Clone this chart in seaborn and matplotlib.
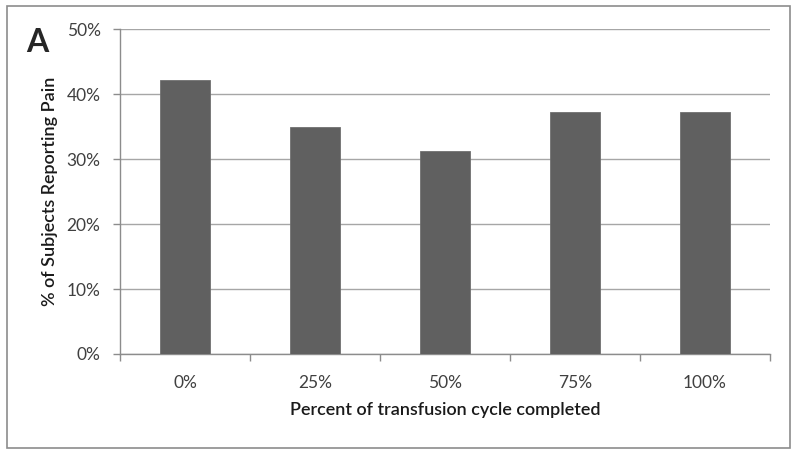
import matplotlib
matplotlib.use('Agg')
import matplotlib.pyplot as plt
import pandas as pd
import seaborn as sns
from matplotlib.patches import Rectangle
from matplotlib.ticker import FixedLocator, PercentFormatter

# data
cycle_labels = ['0%', '25%', '50%', '75%', '100%']
pain_pct = [42.1, 34.9, 31.3, 37.3, 37.3]
y_ticks = [0, 10, 20, 30, 40, 50]

sns.set_style('white')
plt.rcParams['font.family'] = ['Lato', 'DejaVu Sans']

tbl = pd.DataFrame({'cycle': cycle_labels, 'pct': pain_pct})

fig = plt.figure(figsize=(8, 4.55), dpi=100)
ax = fig.add_axes([0.15, 0.222, 0.8125, 0.714])

sns.barplot(data=tbl, x='cycle', y='pct', color='#606060', width=0.39,
            saturation=1, edgecolor='#707070', linewidth=0.6, ax=ax, zorder=3)

ax.set_ylim(0, 50)
ax.set_xlim(-0.5, len(cycle_labels) - 0.5)
ax.set_yticks(y_ticks)
ax.yaxis.set_major_formatter(PercentFormatter(decimals=0))
ax.yaxis.grid(True, color='#a6a6a6', linewidth=1, zorder=0)
ax.set_axisbelow(True)

for side in ['top', 'right']:
    ax.spines[side].set_visible(False)
for side in ['left', 'bottom']:
    ax.spines[side].set_color('#8c8c8c')
    ax.spines[side].set_linewidth(1)

ax.tick_params(axis='y', which='major', direction='out', length=5, width=1,
               color='#8c8c8c', labelsize=12.5, labelcolor='#404040', pad=9, left=True)
ax.tick_params(axis='x', which='major', length=0, labelsize=12.5, labelcolor='#404040', pad=15)
ax.xaxis.set_minor_locator(FixedLocator([i - 0.5 for i in range(len(cycle_labels) + 1)]))
ax.tick_params(axis='x', which='minor', direction='out', length=5, width=1,
               color='#8c8c8c', bottom=True)

ax.set_xlabel('Percent of transfusion cycle completed', fontsize=13, fontweight='semibold',
              color='#1a1a1a', labelpad=8)
ax.set_ylabel('% of Subjects Reporting Pain', fontsize=13, fontweight='semibold',
              color='#1a1a1a', labelpad=6)

fig.text(0.033, 0.907, 'A', fontsize=23, fontweight='bold', ha='left', va='center')

fig.patches.append(Rectangle((0.009, 0.016), 0.979, 0.97, transform=fig.transFigure,
                             fill=False, edgecolor='#8c8c8c', linewidth=1.2))

plt.savefig('out.png', dpi=100)
